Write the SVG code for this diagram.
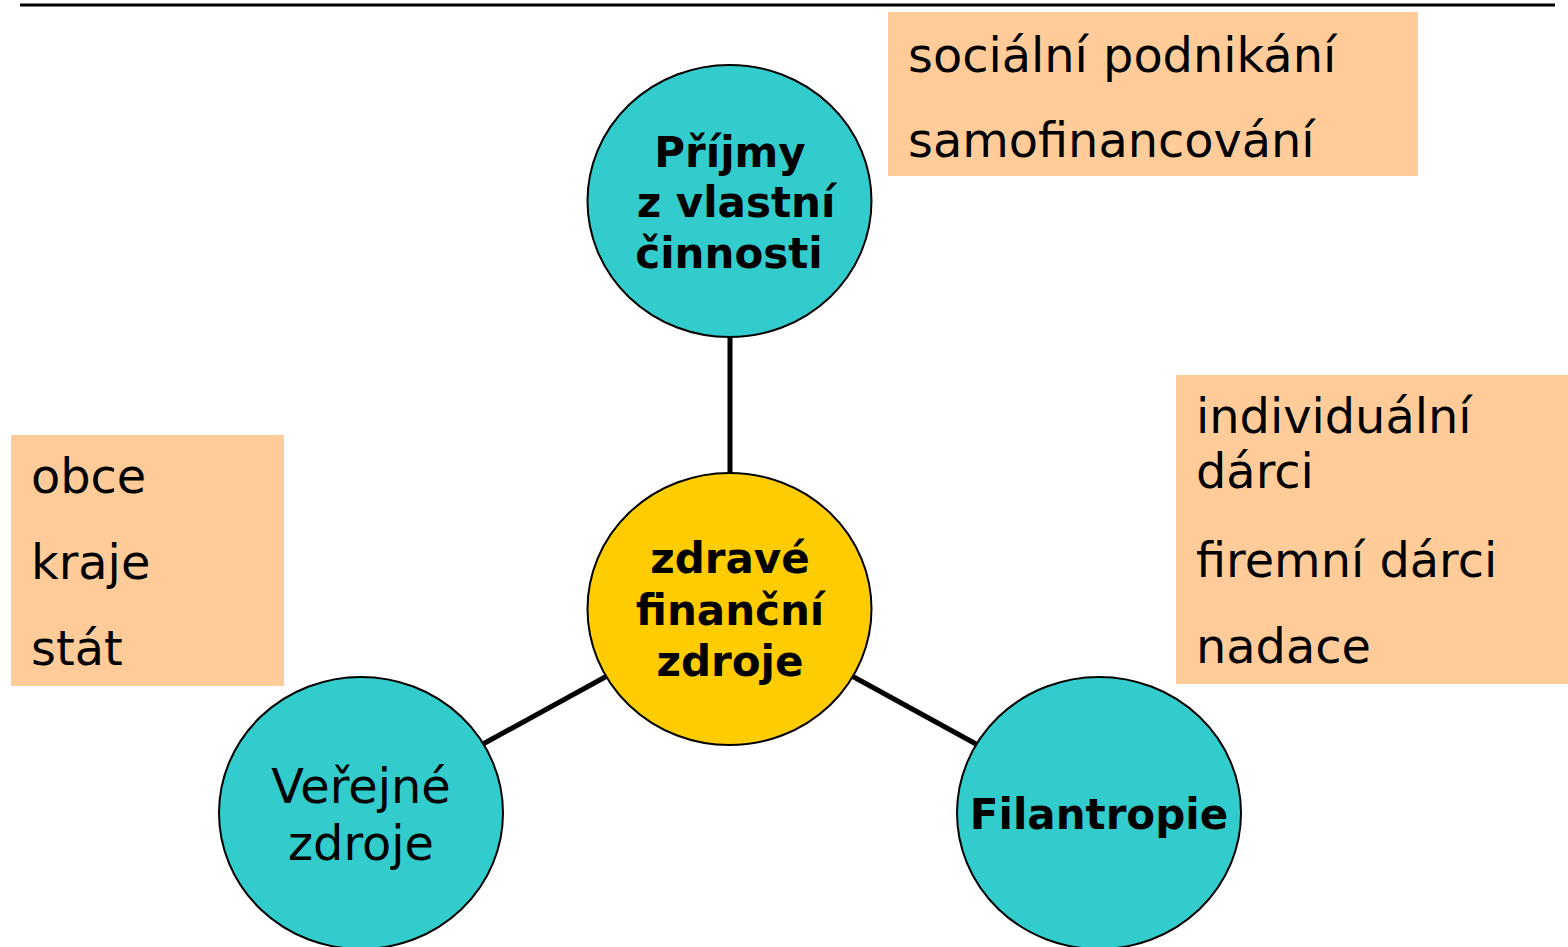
<svg xmlns="http://www.w3.org/2000/svg" width="1568" height="947" viewBox="0 0 1568 947">
<style>
.box{fill:#FFCC99}
.teal{fill:#33CCCC;stroke:#000;stroke-width:2}
.yel{fill:#FFCC00;stroke:#000;stroke-width:2}
.b{font-family:"DejaVu Sans",Verdana,sans-serif;font-weight:bold;font-size:42px;fill:#000;text-anchor:middle}
.n{font-family:"DejaVu Sans",Verdana,sans-serif;font-size:47.8px;fill:#000}
.c{text-anchor:middle}
.con line{stroke:#000;stroke-width:5}
</style>
<rect width="1568" height="947" fill="#fff"/>
<line x1="20" y1="5" x2="1555" y2="5" stroke="#000" stroke-width="3"/>
<g id="connectors" class="con">
<line x1="730" y1="337" x2="730" y2="473"/>
<line x1="483" y1="744" x2="607" y2="676"/>
<line x1="852" y1="676" x2="976" y2="744"/>
</g>
<g id="box-top">
<rect class="box" x="888" y="12" width="530" height="164"/>
<text class="n" x="908" y="72">sociální podnikání</text>
<text class="n" x="908" y="157">samofinancování</text>
</g>
<g id="box-right">
<rect class="box" x="1176" y="375" width="392" height="309"/>
<text class="n" x="1196" y="433">individuální</text>
<text class="n" x="1196" y="488">dárci</text>
<text class="n" x="1196" y="577">firemní dárci</text>
<text class="n" x="1196" y="663">nadace</text>
</g>
<g id="box-left">
<rect class="box" x="11" y="435" width="273" height="251"/>
<text class="n" x="31" y="493">obce</text>
<text class="n" x="31" y="579">kraje</text>
<text class="n" x="31" y="665">stát</text>
</g>
<g id="node-prijmy">
<ellipse class="teal" cx="729.5" cy="201" rx="142" ry="136"/>
<text class="b" x="730" y="167">Příjmy</text>
<text class="b" x="736" y="217">z vlastní</text>
<text class="b" x="729" y="268">činnosti</text>
</g>
<g id="node-center">
<ellipse class="yel" cx="729.5" cy="609" rx="142" ry="136"/>
<text class="b" x="730" y="573">zdravé</text>
<text class="b" x="730" y="625">finanční</text>
<text class="b" x="730" y="676">zdroje</text>
</g>
<g id="node-verejne">
<ellipse class="teal" cx="361" cy="813" rx="142" ry="136"/>
<text class="n c" x="361" y="803">Veřejné</text>
<text class="n c" x="361" y="860">zdroje</text>
</g>
<g id="node-filantropie">
<ellipse class="teal" cx="1099" cy="813" rx="142" ry="136"/>
<text class="b" x="1099" y="829">Filantropie</text>
</g>
</svg>
